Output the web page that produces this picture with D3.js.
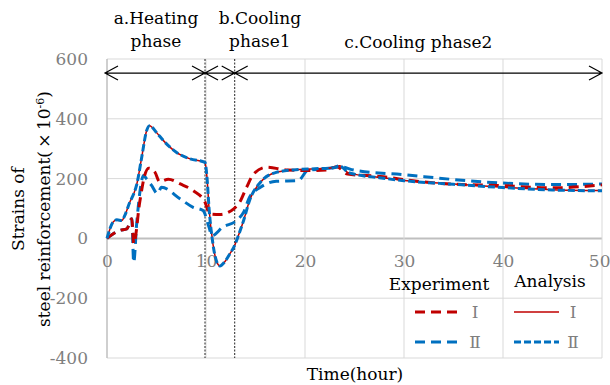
<!DOCTYPE html>
<html>
<head>
<meta charset="utf-8">
<script src="https://cdn.jsdelivr.net/npm/d3@7"></script>
<style>
  body { margin: 0; background: #fff; }
  text { font-family: "DejaVu Serif", "Liberation Serif", serif; }
</style>
</head>
<body>
<div id="chart"></div>
<script>
// time (hour) and strain values
let expITime = [0, 1.3, 2.0, 2.5, 2.7, 3.3, 3.8, 4.2, 4.85, 5.3, 6.2, 7.4, 8.7, 9.9, 10.4, 11.4, 12.8, 13.4, 14.1, 14.8, 16.1, 18.2, 20.5, 22.2, 23.2, 24.3, 27.6, 31.3, 34.6, 39.4, 45, 50];
let expIValues = [0, 27, 32, 66, -18, 120, 210, 235, 221, 190, 198, 182, 160, 121, 82, 80, 99, 121, 171, 215, 238, 229, 227, 229, 240, 215, 207, 191, 182, 177, 169, 179];

let expIITime = [0, 1.3, 2.0, 2.5, 2.7, 3.0, 3.7, 4.0, 4.5, 5.1, 5.5, 7.4, 8.7, 9.7, 10.3, 10.6, 11.7, 13.1, 13.8, 14.4, 15.5, 17.1, 19.3, 20.3, 22, 23.5, 25, 30, 35, 40, 45, 50];
let expIIValues = [0, 27, 32, 66, -80, 50, 210, 199, 177, 150, 171, 132, 104, 93, 38, 9, 38, 60, 88, 138, 171, 191, 193, 228, 232, 240, 228, 213, 197, 185, 180, 182];

let anaTime = [0, 0.6, 1.0, 1.5, 1.8, 2.3, 2.7, 3.0, 3.5, 4.0, 4.3, 5.0, 5.7, 7.0, 8.4, 9.9, 10.1, 10.3, 10.7, 11.1, 11.4, 11.9, 12.4, 12.8, 13.3, 13.8, 14.4, 15.5, 17.1, 18.8, 21, 22.9, 23.5, 24.3, 25, 27.5, 30, 35, 40, 45, 50];
let anaIValues = [0, 54, 62, 60, 77, 121, 149, 180, 270, 360, 377, 354, 327, 288, 266, 254, 204, 104, -18, -80, -92, -78, -52, -30, 12, 60, 127, 188, 221, 229, 233, 236, 243, 221, 215, 204, 194, 182, 171, 163, 160];
let anaIIValues = [0, 54, 62, 60, 77, 121, 149, 180, 270, 360, 377, 354, 327, 288, 266, 254, 204, 104, -18, -80, -92, -78, -52, -30, 12, 60, 127, 188, 221, 229, 233, 236, 243, 222, 215, 203, 193, 181, 170, 162, 159];

let xTicks = [0, 10, 20, 30, 40, 50];
let yTicks = [-400, -200, 0, 200, 400, 600];

// phase boundaries (hour) and names
let phaseBounds = [0, 9.9, 12.9, 50];
let phaseNames = [["a.Heating", "phase"], ["b.Cooling", "phase1"], ["c.Cooling phase2"]];
let arrowLevel = 553;

let legendHeads = ["Experiment", "Analysis"];
let legendNums = ["Ⅰ", "Ⅱ"];

let red = "#c00000", blue = "#0070c0";

let margin = {top: 59, right: 8, bottom: 27, left: 107};
let fullWidth = 610, fullHeight = 385;
let width = fullWidth - margin.left - margin.right;
let height = fullHeight - margin.top - margin.bottom;

let svg = d3.select("#chart").append("svg")
    .attr("width", fullWidth)
    .attr("height", fullHeight);

let g = svg.append("g")
    .attr("transform", "translate(" + margin.left + "," + margin.top + ")");

let x = d3.scaleLinear().domain([0, 50]).range([0, width]);
let y = d3.scaleLinear().domain([-400, 600]).range([height, 0]);

// grid
g.selectAll(".hgrid").data(yTicks).enter().append("line")
    .attr("x1", 0).attr("x2", width)
    .attr("y1", d => y(d)).attr("y2", d => y(d))
    .attr("stroke", d => d === 0 ? "#bfbfbf" : "#d9d9d9")
    .attr("stroke-width", d => d === 0 ? 2 : 1);
g.selectAll(".vgrid").data(xTicks.slice(1)).enter().append("line")
    .attr("x1", d => x(d)).attr("x2", d => x(d))
    .attr("y1", 0).attr("y2", height)
    .attr("stroke", "#d9d9d9");
g.append("line")
    .attr("x1", 0).attr("x2", 0).attr("y1", 0).attr("y2", height)
    .attr("stroke", "#bfbfbf").attr("stroke-width", 1.5);

// y axis labels
let yAxis = d3.axisLeft(y).tickValues(yTicks).tickSize(0).tickPadding(19).tickFormat(d => String(d));
let ya = g.append("g").call(yAxis);
ya.select(".domain").remove();
ya.selectAll("text").attr("fill", "#7f7f7f").style("font-size", "17px").style("font-family", "DejaVu Serif");

// x axis labels sit under the zero line
let xAxis = d3.axisBottom(x).tickValues(xTicks).tickSize(0).tickPadding(17);
let xa = g.append("g").attr("transform", "translate(0," + y(0) + ")").call(xAxis);
xa.select(".domain").remove();
xa.selectAll("text").attr("fill", "#7f7f7f").style("font-size", "17px").style("font-family", "DejaVu Serif");
// last label would run off the page
xa.selectAll("text").filter(d => d === 50).attr("text-anchor", "end").attr("dx", 8);

// phase dividers
g.selectAll(".divider").data(phaseBounds.slice(1, 3)).enter().append("line")
    .attr("x1", d => x(d)).attr("x2", d => x(d))
    .attr("y1", 0).attr("y2", height)
    .attr("stroke", "#222").attr("stroke-width", 1)
    .attr("stroke-dasharray", "2,1.5");

// phase arrows, open heads at both ends
let ah = 13, aw = 7;
let ay = y(arrowLevel);
function head(xt, dir) {
  return "M" + (xt + dir * ah) + "," + (ay - aw) + "L" + xt + "," + ay + "L" + (xt + dir * ah) + "," + (ay + aw);
}
for (let i = 0; i < phaseBounds.length - 1; i++) {
  let x0 = x(phaseBounds[i]) - (i === 0 ? 2 : 0), x1 = x(phaseBounds[i + 1]);
  g.append("path")
      .attr("d", "M" + x0 + "," + ay + "L" + x1 + "," + ay + head(x0, 1) + head(x1, -1))
      .attr("fill", "none").attr("stroke", "#000").attr("stroke-width", 1.2);
}

// phase names
phaseNames.forEach(function(lines, i) {
  let cx = (x(phaseBounds[i]) + x(phaseBounds[i + 1])) / 2;
  if (i === 1) cx += 40;
  let t = svg.append("text").attr("text-anchor", "middle")
      .attr("x", margin.left + cx).attr("y", lines.length > 1 ? 24 : 48)
      .style("font-size", "17px").attr("fill", "#000");
  lines.forEach(function(s, j) {
    t.append("tspan").attr("x", margin.left + cx).attr("dy", j === 0 ? 0 : 23).text(s);
  });
});

// series
function series(t, v) { return t.map((d, i) => [d, v[i]]); }
let line = d3.line().x(d => x(d[0])).y(d => y(d[1])).curve(d3.curveMonotoneX);

let plotted = [
  {data: series(expIITime, expIIValues), color: blue, w: 3, dash: "10,6"},
  {data: series(expITime, expIValues), color: red, w: 3, dash: "10,6"},
  {data: series(anaTime, anaIValues), color: red, w: 1.5, dash: null},
  {data: series(anaTime, anaIIValues), color: blue, w: 3, dash: "7,3"}
];
g.selectAll(".series").data(plotted).enter().append("path")
    .attr("d", d => line(d.data))
    .attr("fill", "none")
    .attr("stroke", d => d.color)
    .attr("stroke-width", d => d.w)
    .attr("stroke-dasharray", d => d.dash);

// legend
let legend = svg.append("g");
legend.selectAll(".head").data(legendHeads).enter().append("text")
    .attr("x", (d, i) => i === 0 ? 439 : 550)
    .attr("y", (d, i) => i === 0 ? 290 : 287)
    .attr("text-anchor", "middle")
    .style("font-size", "17px")
    .text(d => d);

let legendItems = [
  {col: 0, row: 0, color: red, w: 3, dash: "10,6"},
  {col: 0, row: 1, color: blue, w: 3, dash: "10,6"},
  {col: 1, row: 0, color: red, w: 1.5, dash: null},
  {col: 1, row: 1, color: blue, w: 3, dash: "7,3"}
];
let li = legend.selectAll(".item").data(legendItems).enter().append("g")
    .attr("transform", d => "translate(" + (d.col === 0 ? 415 : 514) + "," + (312 + d.row * 30) + ")");
li.append("line")
    .attr("x1", 0).attr("x2", d => d.col === 0 ? 46 : 45)
    .attr("stroke", d => d.color).attr("stroke-width", d => d.w)
    .attr("stroke-dasharray", d => d.dash);
li.append("text")
    .attr("x", d => d.col === 0 ? 60 : 59).attr("y", 6)
    .attr("text-anchor", "middle")
    .attr("fill", "#7f7f7f")
    .style("font-size", "17px")
    .text(d => legendNums[d.row]);

// axis titles
svg.append("text").attr("x", 355).attr("y", 380).attr("text-anchor", "middle")
    .style("font-size", "17px").text("Time(hour)");
let yt = svg.append("text").attr("transform", "translate(24,209) rotate(-90)")
    .attr("text-anchor", "middle").style("font-size", "17px");
yt.append("tspan").attr("x", 0).attr("y", 0).text("Strains of");
yt.append("tspan").attr("x", 0).attr("y", 26).text("steel reinforcement(\u2009×\u200910");
yt.append("tspan").attr("dy", -6).style("font-size", "11px").text("-6");
yt.append("tspan").attr("dy", 6).text(")");
</script>
</body>
</html>
